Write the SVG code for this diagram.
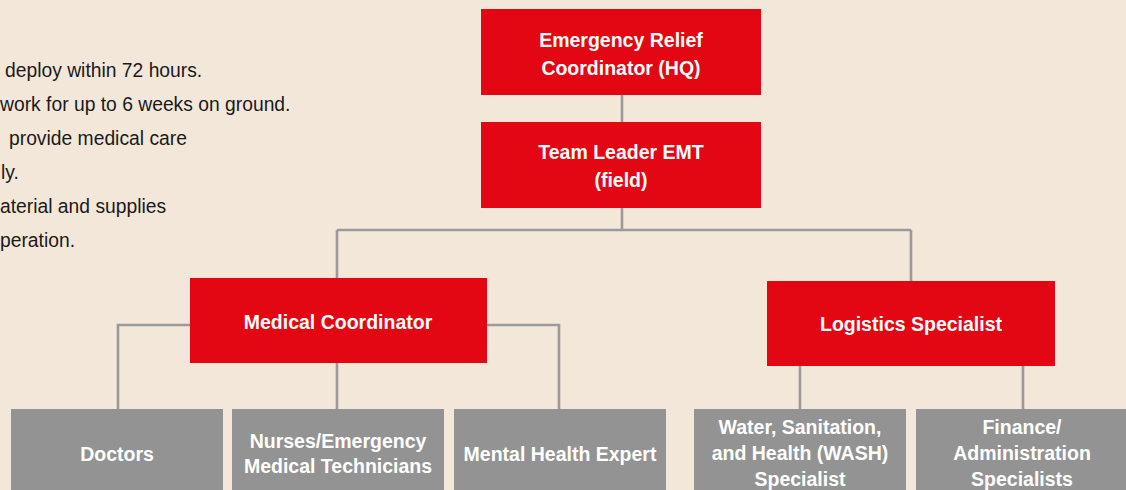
<svg xmlns="http://www.w3.org/2000/svg" width="1126" height="490" viewBox="0 0 1126 490">
<style>
.bg{fill:#F3E7DA}
.red{fill:#E30613}
.gray{fill:#939393}
.lbl{font-family:"Liberation Sans",Arial,sans-serif;font-weight:bold;font-size:19.5px;fill:#ffffff;text-anchor:middle}
.note{font-family:"Liberation Sans",Arial,sans-serif;font-size:19.3px;fill:#1a1a1a}
.conn{stroke:#9A9A9A;stroke-width:2.6;fill:none}
</style>
<rect class="bg" x="0" y="0" width="1126" height="490"/>
<g id="notes">
<text class="note" x="5" y="77">deploy within 72 hours.</text>
<text class="note" x="0" y="111">work for up to 6 weeks on ground.</text>
<text class="note" x="9" y="145">provide medical care</text>
<text class="note" x="1" y="179">ly.</text>
<text class="note" x="0" y="213">aterial and supplies</text>
<text class="note" x="0" y="247">peration.</text>
</g>
<g id="connectors">
<path class="conn" d="M622 95V122M622 208V230M337 230H911M337 230V278M911 230V281"/>
<path class="conn" d="M190 325H118V409M487 325H559V409M337 363V409"/>
<path class="conn" d="M800 366V409M1023 366V409"/>
</g>
<g id="n-erc">
<rect class="red" x="481" y="9" width="280" height="86"/>
<text class="lbl" x="621" y="47">Emergency Relief</text>
<text class="lbl" x="621" y="75">Coordinator (HQ)</text>
</g>
<g id="n-teamleader">
<rect class="red" x="481" y="122" width="280" height="86"/>
<text class="lbl" x="621" y="159">Team Leader EMT</text>
<text class="lbl" x="621" y="187">(field)</text>
</g>
<g id="n-medical">
<rect class="red" x="190" y="278" width="297" height="85"/>
<text class="lbl" x="338" y="329">Medical Coordinator</text>
</g>
<g id="n-logistics">
<rect class="red" x="767" y="281" width="288" height="85"/>
<text class="lbl" x="911" y="331">Logistics Specialist</text>
</g>
<g id="n-doctors">
<rect class="gray" x="11" y="409" width="212" height="90"/>
<text class="lbl" x="117" y="461">Doctors</text>
</g>
<g id="n-nurses">
<rect class="gray" x="232" y="409" width="212" height="90"/>
<text class="lbl" x="338" y="448">Nurses/Emergency</text>
<text class="lbl" x="338" y="473">Medical Technicians</text>
</g>
<g id="n-mental">
<rect class="gray" x="454" y="409" width="212" height="90"/>
<text class="lbl" x="560" y="461">Mental Health Expert</text>
</g>
<g id="n-wash">
<rect class="gray" x="694" y="409" width="212" height="90"/>
<text class="lbl" x="800" y="434">Water, Sanitation,</text>
<text class="lbl" x="800" y="460">and Health (WASH)</text>
<text class="lbl" x="800" y="486">Specialist</text>
</g>
<g id="n-finance">
<rect class="gray" x="916" y="409" width="212" height="90"/>
<text class="lbl" x="1022" y="434">Finance/</text>
<text class="lbl" x="1022" y="460">Administration</text>
<text class="lbl" x="1022" y="486">Specialists</text>
</g>
</svg>
